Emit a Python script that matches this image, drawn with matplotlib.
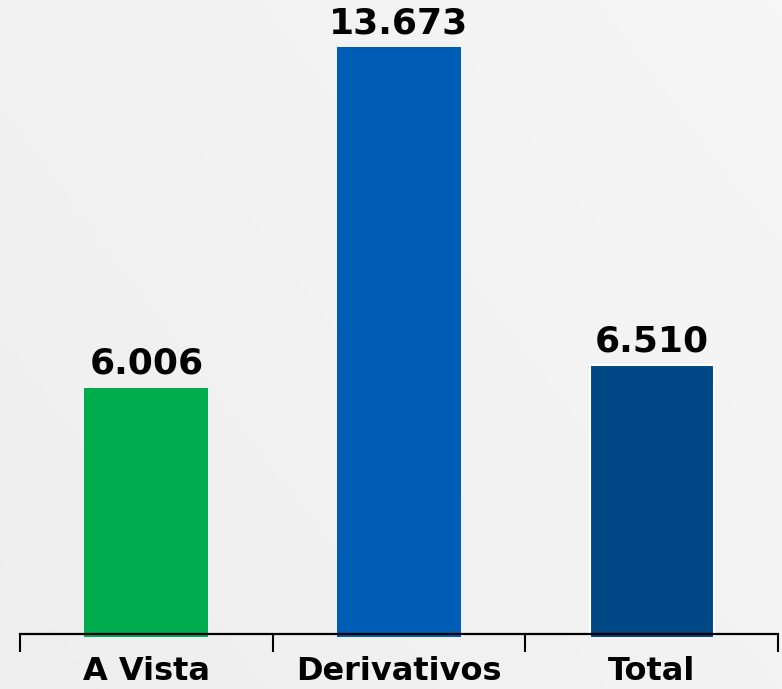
import numpy as np
import matplotlib
matplotlib.use("Agg")
import matplotlib.pyplot as plt

categories = ["A Vista", "Derivativos", "Total"]
values = [6.006, 13.673, 6.510]
value_labels = ["6.006", "13.673", "6.510"]
colors = ["#00ad4e", "#005db6", "#004785"]
edgecolors = ["none", "none", "white"]

fig = plt.figure(figsize=(7.82, 6.89), dpi=100)
fig.patch.set_facecolor("#f0f0f0")

# subtle background gradient
bg = fig.add_axes([0, 0, 1, 1], zorder=-1)
gx = np.linspace(0, 1, 200)
gy = np.linspace(0, 1, 200)
X, Y = np.meshgrid(gx, gy)
G = 0.935 + 0.03 * (0.6 * X + 0.4 * Y)
bg.imshow(np.dstack([G, G, G]), extent=[0, 1, 0, 1], origin="lower", aspect="auto")
bg.axis("off")

H = 689.0
W = 782.0
# axes from pixel y=637 (bottom) to 0 (top); x from 20 to 778
ax = fig.add_axes([20 / W, (H - 637) / H, 758 / W, 637 / H])
ax.patch.set_alpha(0)

x = np.arange(len(categories))
bars = ax.bar(x, values, width=0.49, color=colors, edgecolor=edgecolors, linewidth=1.5, zorder=2)

ax.set_xlim(-0.5, len(categories) - 0.5)
ax.set_ylim(0.4, 14.73)

for xi, v, lab in zip(x, values, value_labels):
    ax.annotate(lab, (xi, v), xytext=(0, 5), textcoords="offset points",
                ha="center", va="bottom", fontsize=26, fontweight="bold",
                family="DejaVu Sans", color="black")

for s in ["top", "right", "left"]:
    ax.spines[s].set_visible(False)
ax.spines["bottom"].set_position(("data", 0.47))
ax.spines["bottom"].set_linewidth(1.6)
ax.spines["bottom"].set_zorder(3)
ax.spines["bottom"].set_bounds(-0.5, len(categories) - 0.5)

ax.set_yticks([])
ax.set_xticks(np.arange(-0.5, len(categories), 1.0), minor=False)
ax.set_xticklabels([])
ax.tick_params(axis="x", which="major", direction="out", length=13, width=1.5, color="black")
ax.set_xticks(x, minor=True)
ax.set_xticklabels(categories, minor=True, fontsize=23, fontweight="bold", family="DejaVu Sans")
ax.tick_params(axis="x", which="minor", length=0, pad=16)

fig.savefig("out.png", dpi=100, facecolor=fig.get_facecolor())
